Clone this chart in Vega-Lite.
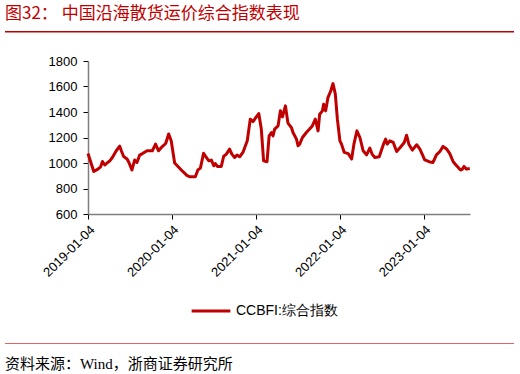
{
  "$schema": "https://vega.github.io/schema/vega-lite/v6.json",
  "padding": {"top": 5, "left": 5, "right": 5, "bottom": 5},
  "spacing": 22,
  "config": {
    "font": "Liberation Sans",
    "axis": {"labelFont": "Liberation Sans"},
    "title": {"font": "Noto Sans CJK SC"}
  },
  "vconcat": [
    {
      "width": 509,
      "height": 1.5,
      "view": {"fill": "#c00000", "stroke": null},
      "title": {
        "text": "图32：  中国沿海散货运价综合指数表现",
        "anchor": "start",
        "frame": "group",
        "fontSize": 17,
        "fontWeight": "normal",
        "color": "#c00000",
        "offset": 8
      },
      "data": {"values": []},
      "mark": "point",
      "encoding": {}
    },
    {
      "spacing": 63,
      "vconcat": [
        {
          "spacing": 0,
          "hconcat": [
            {
              "width": 35,
              "height": 1,
              "view": {"stroke": null},
              "data": {"values": []},
              "mark": "point",
              "encoding": {}
            },
            {
              "width": 382,
              "height": 153,
              "view": {"stroke": null},
              "data": {
                "values": [
                  {"date": "2019-01-04", "v": 1074},
                  {"date": "2019-01-29", "v": 933},
                  {"date": "2019-02-16", "v": 952},
                  {"date": "2019-02-28", "v": 970},
                  {"date": "2019-03-08", "v": 1012},
                  {"date": "2019-03-18", "v": 984},
                  {"date": "2019-03-29", "v": 1002},
                  {"date": "2019-04-08", "v": 1015},
                  {"date": "2019-04-20", "v": 1043},
                  {"date": "2019-05-07", "v": 1096},
                  {"date": "2019-05-22", "v": 1132},
                  {"date": "2019-05-29", "v": 1096},
                  {"date": "2019-06-08", "v": 1051},
                  {"date": "2019-06-23", "v": 1031},
                  {"date": "2019-07-01", "v": 1004},
                  {"date": "2019-07-14", "v": 945},
                  {"date": "2019-07-26", "v": 1023},
                  {"date": "2019-08-05", "v": 1004},
                  {"date": "2019-08-17", "v": 1062},
                  {"date": "2019-08-29", "v": 1074},
                  {"date": "2019-09-18", "v": 1096},
                  {"date": "2019-10-11", "v": 1096},
                  {"date": "2019-10-25", "v": 1148},
                  {"date": "2019-11-07", "v": 1096},
                  {"date": "2019-11-22", "v": 1127},
                  {"date": "2019-12-08", "v": 1153},
                  {"date": "2019-12-21", "v": 1228},
                  {"date": "2020-01-01", "v": 1174},
                  {"date": "2020-01-16", "v": 1000},
                  {"date": "2020-02-14", "v": 945},
                  {"date": "2020-02-28", "v": 921},
                  {"date": "2020-03-07", "v": 905},
                  {"date": "2020-03-21", "v": 892},
                  {"date": "2020-04-15", "v": 892},
                  {"date": "2020-04-26", "v": 945},
                  {"date": "2020-05-07", "v": 960},
                  {"date": "2020-05-21", "v": 1077},
                  {"date": "2020-06-02", "v": 1043},
                  {"date": "2020-06-13", "v": 1017},
                  {"date": "2020-06-24", "v": 1023},
                  {"date": "2020-07-04", "v": 978},
                  {"date": "2020-07-11", "v": 996},
                  {"date": "2020-07-20", "v": 973},
                  {"date": "2020-08-06", "v": 973},
                  {"date": "2020-08-16", "v": 1051},
                  {"date": "2020-08-28", "v": 1070},
                  {"date": "2020-09-11", "v": 1109},
                  {"date": "2020-09-21", "v": 1070},
                  {"date": "2020-10-03", "v": 1043},
                  {"date": "2020-10-13", "v": 1062},
                  {"date": "2020-10-25", "v": 1049},
                  {"date": "2020-11-08", "v": 1083},
                  {"date": "2020-11-27", "v": 1174},
                  {"date": "2020-12-10", "v": 1344},
                  {"date": "2020-12-22", "v": 1325},
                  {"date": "2021-01-03", "v": 1356},
                  {"date": "2021-01-16", "v": 1388},
                  {"date": "2021-01-27", "v": 1266},
                  {"date": "2021-02-06", "v": 1017},
                  {"date": "2021-02-21", "v": 1010},
                  {"date": "2021-03-02", "v": 1213},
                  {"date": "2021-03-12", "v": 1239},
                  {"date": "2021-03-19", "v": 1213},
                  {"date": "2021-03-26", "v": 1266},
                  {"date": "2021-04-10", "v": 1291},
                  {"date": "2021-04-20", "v": 1409},
                  {"date": "2021-04-29", "v": 1362},
                  {"date": "2021-05-12", "v": 1448},
                  {"date": "2021-05-23", "v": 1313},
                  {"date": "2021-06-07", "v": 1278},
                  {"date": "2021-06-14", "v": 1239},
                  {"date": "2021-06-29", "v": 1187},
                  {"date": "2021-07-06", "v": 1135},
                  {"date": "2021-07-13", "v": 1148},
                  {"date": "2021-07-25", "v": 1200},
                  {"date": "2021-08-11", "v": 1239},
                  {"date": "2021-08-25", "v": 1266},
                  {"date": "2021-09-06", "v": 1291},
                  {"date": "2021-09-19", "v": 1344},
                  {"date": "2021-10-01", "v": 1252},
                  {"date": "2021-10-08", "v": 1383},
                  {"date": "2021-10-20", "v": 1409},
                  {"date": "2021-10-25", "v": 1461},
                  {"date": "2021-11-03", "v": 1409},
                  {"date": "2021-11-13", "v": 1513},
                  {"date": "2021-11-25", "v": 1565},
                  {"date": "2021-12-05", "v": 1623},
                  {"date": "2021-12-15", "v": 1540},
                  {"date": "2021-12-24", "v": 1344},
                  {"date": "2022-01-04", "v": 1174},
                  {"date": "2022-01-11", "v": 1148},
                  {"date": "2022-01-23", "v": 1083},
                  {"date": "2022-02-09", "v": 1074},
                  {"date": "2022-02-24", "v": 1031},
                  {"date": "2022-03-06", "v": 1148},
                  {"date": "2022-03-19", "v": 1252},
                  {"date": "2022-04-01", "v": 1200},
                  {"date": "2022-04-15", "v": 1096},
                  {"date": "2022-04-30", "v": 1064},
                  {"date": "2022-05-14", "v": 1117},
                  {"date": "2022-05-24", "v": 1070},
                  {"date": "2022-06-05", "v": 1043},
                  {"date": "2022-06-24", "v": 1049},
                  {"date": "2022-07-11", "v": 1140},
                  {"date": "2022-07-22", "v": 1187},
                  {"date": "2022-07-29", "v": 1148},
                  {"date": "2022-08-09", "v": 1174},
                  {"date": "2022-08-24", "v": 1161},
                  {"date": "2022-09-08", "v": 1090},
                  {"date": "2022-09-26", "v": 1127},
                  {"date": "2022-10-11", "v": 1161},
                  {"date": "2022-10-21", "v": 1218},
                  {"date": "2022-10-31", "v": 1148},
                  {"date": "2022-11-15", "v": 1101},
                  {"date": "2022-12-04", "v": 1143},
                  {"date": "2022-12-18", "v": 1109},
                  {"date": "2023-01-08", "v": 1025},
                  {"date": "2023-01-30", "v": 1008},
                  {"date": "2023-02-13", "v": 1004},
                  {"date": "2023-02-28", "v": 1064},
                  {"date": "2023-03-15", "v": 1090},
                  {"date": "2023-03-29", "v": 1130},
                  {"date": "2023-04-13", "v": 1110},
                  {"date": "2023-04-27", "v": 1074},
                  {"date": "2023-05-12", "v": 1010},
                  {"date": "2023-05-23", "v": 986},
                  {"date": "2023-06-05", "v": 960},
                  {"date": "2023-06-13", "v": 945},
                  {"date": "2023-06-20", "v": 950},
                  {"date": "2023-06-28", "v": 973},
                  {"date": "2023-07-09", "v": 952},
                  {"date": "2023-07-23", "v": 957}
                ],
                "format": {"parse": {"date": "date:'%Y-%m-%d'"}}
              },
              "mark": {"type": "line", "strokeWidth": 3, "strokeJoin": "round"},
              "encoding": {
                "x": {
                  "field": "date",
                  "type": "temporal",
                  "scale": {
                    "domain": [
                      {"year": 2019, "month": 1, "date": 4},
                      {"year": 2023, "month": 7, "date": 24}
                    ]
                  },
                  "axis": {
                    "title": null,
                    "grid": false,
                    "values": [
                      {"year": 2019, "month": 1, "date": 4},
                      {"year": 2020, "month": 1, "date": 4},
                      {"year": 2021, "month": 1, "date": 4},
                      {"year": 2022, "month": 1, "date": 4},
                      {"year": 2023, "month": 1, "date": 4}
                    ],
                    "labelExpr": "timeFormat(datum.value, '%Y-%m-%d')",
                    "labelAngle": -45,
                    "labelFontSize": 13,
                    "labelColor": "#000000",
                    "labelPadding": 4,
                    "labelFlush": false,
                    "labelOverlap": false,
                    "tickSize": 5,
                    "tickColor": "#000000",
                    "domainColor": "#7f7f7f",
                    "domainWidth": 1.5
                  }
                },
                "y": {
                  "field": "v",
                  "type": "quantitative",
                  "scale": {"domain": [600, 1800], "nice": false, "zero": false},
                  "axis": {
                    "title": null,
                    "grid": false,
                    "format": "d",
                    "values": [600, 800, 1000, 1200, 1400, 1600, 1800],
                    "labelFontSize": 13,
                    "labelColor": "#000000",
                    "labelPadding": 6,
                    "tickSize": 5,
                    "tickColor": "#000000",
                    "domainColor": "#7f7f7f",
                    "domainWidth": 1.5,
                    "minExtent": 40
                  }
                },
                "color": {
                  "datum": "CCBFI:综合指数",
                  "type": "nominal",
                  "scale": {"range": ["#c00000"]},
                  "legend": {
                    "title": null,
                    "orient": "none",
                    "legendX": 185,
                    "legendY": 259,
                    "symbolType": "stroke",
                    "symbolSize": 1500,
                    "symbolStrokeWidth": 3,
                    "labelFontSize": 14,
                    "labelColor": "#000000",
                    "labelFont": "Liberation Sans"
                  }
                }
              }
            }
          ]
        },
        {
          "width": 509,
          "height": 1,
          "view": {"fill": "#e06666", "stroke": null},
          "title": {
            "text": "资料来源：Wind，浙商证券研究所",
            "orient": "bottom",
            "anchor": "start",
            "frame": "group",
            "fontSize": 15,
            "fontWeight": "normal",
            "font": "Liberation Serif, Noto Sans CJK SC",
            "color": "#000000",
            "offset": 13
          },
          "data": {"values": []},
          "mark": "point",
          "encoding": {}
        }
      ]
    }
  ]
}
